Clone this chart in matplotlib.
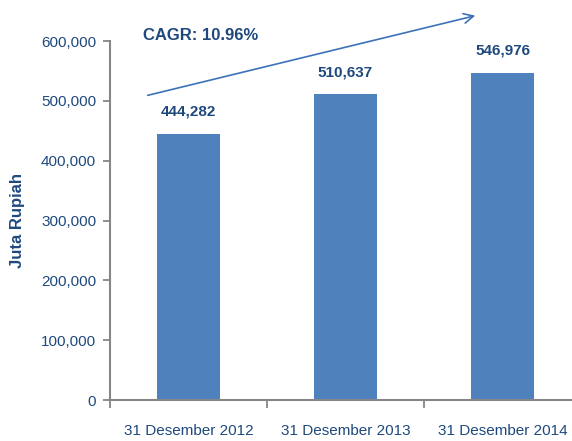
import matplotlib
matplotlib.use("Agg")
import matplotlib.pyplot as plt
from matplotlib.ticker import FuncFormatter, FixedLocator

categories = ["31 Desember 2012", "31 Desember 2013", "31 Desember 2014"]
values = [444282, 510637, 546976]
cagr_label = "CAGR: 10.96%"
y_label = "Juta Rupiah"

W, H = 572, 441
fig = plt.figure(figsize=(W / 100, H / 100), dpi=100)
fam = ['Liberation Sans Narrow', 'Liberation Sans', 'DejaVu Sans']
plt.rcParams['font.family'] = fam

dark = "#1F497D"
bar_c = "#4F81BD"
spine_c = "#868686"

ax = fig.add_axes([110 / W, 41 / H, 471 / W, 359 / H])
x = list(range(len(categories)))
ax.bar(x, values, width=0.40, color=bar_c, zorder=2)
ax.set_xlim(-0.5, len(categories) - 0.5)
ax.set_ylim(0, 600000)
ax.set_yticks(range(0, 600001, 100000))
ax.yaxis.set_major_formatter(FuncFormatter(lambda v, p: f"{int(v):,}"))

ax.set_xticks(x)
ax.set_xticklabels(categories)
ax.xaxis.set_minor_locator(FixedLocator([i - 0.5 for i in range(len(categories) + 1)]))
ax.tick_params(axis='x', which='major', length=0, pad=17, labelsize=11, labelcolor=dark)
ax.tick_params(axis='x', which='minor', length=6, width=1.3, color=spine_c, direction='out')
ax.tick_params(axis='y', length=5, width=1.3, color=spine_c, labelsize=11, labelcolor=dark, pad=5)

for s in ['top', 'right']:
    ax.spines[s].set_visible(False)
for s in ['left', 'bottom']:
    ax.spines[s].set_color(spine_c)
    ax.spines[s].set_linewidth(1.5)

for xi, v in zip(x, values):
    ax.annotate(f"{v:,}", (xi, v), xytext=(0, 11), textcoords='offset points',
                ha='center', va='bottom', fontsize=11, fontweight='bold', color=dark)

fig.text(18 / W, 1 - 220 / H, y_label, rotation=90, ha='center', va='center',
         fontsize=12, fontweight='bold', color=dark)

fig.text(143 / W, 1 - 35 / H, cagr_label, ha='left', va='center',
         fontsize=12, fontweight='bold', color=dark)

ax.annotate("", xy=(478, H - 15), xycoords='figure pixels',
            xytext=(145, H - 96), textcoords='figure pixels',
            arrowprops=dict(arrowstyle='->,head_length=0.7,head_width=0.35',
                            color="#3D72B8", lw=1.2))

fig.savefig("out.png", dpi=100)
